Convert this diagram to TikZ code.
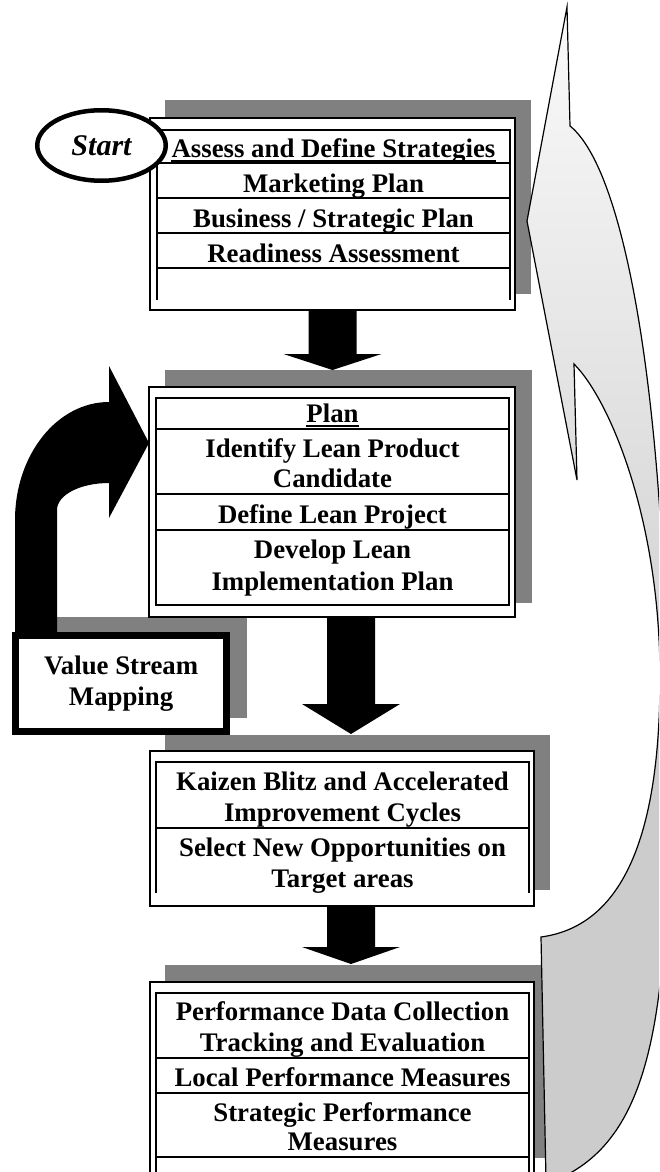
\documentclass[tikz,border=0pt]{standalone}
\usepackage{fontspec}
\setmainfont{Liberation Serif}
\usetikzlibrary{calc,shapes.geometric}
\definecolor{shadowgray}{HTML}{808080}
\definecolor{backgray}{HTML}{CCCCCC}
\newcommand\blockarrow[3]{%
  \fill ($(#1)+(-24,0)$) -- ($(#1)+(24,0)$) -- ($(#2)+(24,-#3)$) -- ($(#2)+(49,-#3)$)
    -- (#2) -- ($(#2)+(-49,-#3)$) -- ($(#2)+(-24,-#3)$) -- cycle;}
\begin{document}
\begin{tikzpicture}[x=1pt,y=-1pt,
  shadowbox/.style={fill=shadowgray,draw=none,inner sep=0,outer sep=0},
  boxw/.style={fill=white,draw=black,line width=1.2pt,inner sep=0,outer sep=0},
  tbl/.style={line width=1.8pt},
  txt/.style={font=\fontsize{26.8}{30}\selectfont\bfseries,inner sep=0,anchor=base},
  uline/.style={line width=2pt}]
\useasboundingbox (0,0) rectangle (659,1172);

% shadows
\node[shadowbox,minimum width=366pt,minimum height=194pt] (s1) at (348,197) {};
\node[shadowbox,minimum width=367pt,minimum height=233pt] (s2) at (348.5,486.5) {};
\node[shadowbox,minimum width=385pt,minimum height=155pt] (s3) at (357.5,812.5) {};
\node[shadowbox,minimum width=385pt,minimum height=193pt] (s4) at (357.5,1061.5) {};
\node[shadowbox,minimum width=220pt,minimum height=101pt] (svsm) at (137,667.5) {};

% big curved arrow (right side)
\begin{scope}
\clip (0,0) rectangle (659,1172);
\draw[line width=1.2pt,fill=backgray]
  (541,937) -- (546,1180) -- (556,1180) .. controls (650,1140) and (670,1020) .. (668,770)
  -- (660,677) .. controls (660,820) and (630,925) .. (541,937) -- cycle;
\draw[line width=1.2pt,top color=white!98!black,bottom color=black!20]
  (574,364) -- (577,480) -- (527,221) -- (567,7) -- (570,126)
  .. controls (625,170) and (668,400) .. (668,770)
  -- (660,677) .. controls (660,520) and (610,400) .. (574,364) -- cycle;
\end{scope}

% box 1
\node[boxw,minimum width=365pt,minimum height=192pt] (b1) at (332.5,214) {};
\draw[tbl] (157,300) -- (157,130) -- (510,130) -- (510,300);
\draw[tbl] (157,163) -- (510,163) (157,198) -- (510,198) (157,233) -- (510,233) (157,268) -- (510,268);
\node[txt] (t11) at (333.5,157) {Assess and Define Strategies};
\draw[uline] ($(t11.base west)+(0,3.5)$) -- ($(t11.base east)+(0,3.5)$);
\node[txt] (t12) at (333.5,192) {Marketing Plan};
\node[txt] (t13) at (333.5,227) {Business / Strategic Plan};
\node[txt] (t14) at (333.5,262) {Readiness Assessment};

% box 2
\node[boxw,minimum width=366pt,minimum height=230pt] (b2) at (332,502) {};
\draw[tbl] (156,398) rectangle (509,605);
\draw[tbl] (156,429) -- (509,429) (156,494) -- (509,494) (156,530) -- (509,530);
\node[txt] (t21) at (332.5,422) {Plan};
\draw[uline] ($(t21.base west)+(0,4)$) -- ($(t21.base east)+(0,4)$);
\node[txt] (t22) at (332.5,457.5) {Identify Lean Product};
\node[txt] (t23) at (332.5,487.5) {Candidate};
\node[txt] (t24) at (332.5,523) {Define Lean Project};
\node[txt] (t25) at (332.5,558.5) {Develop Lean};
\node[txt] (t26) at (332.5,590.5) {Implementation Plan};

% box 3
\node[boxw,minimum width=384pt,minimum height=155pt] (b3) at (342,828.5) {};
\draw[tbl] (156,893) -- (156,762) -- (529,762) -- (529,893);
\draw[tbl] (156,828) -- (529,828);
\node[txt] (t31) at (342.5,790) {Kaizen Blitz and Accelerated};
\node[txt] (t32) at (342.5,821) {Improvement Cycles};
\node[txt] (t33) at (342.5,856) {Select New Opportunities on};
\node[txt] (t34) at (342.5,887.5) {Target areas};

% box 4
\node[boxw,minimum width=384pt,minimum height=192pt] (b4) at (342,1078) {};
\draw[tbl] (156,1176) -- (156,993) -- (529,993) -- (529,1176);
\draw[tbl] (156,1058) -- (529,1058) (156,1093) -- (529,1093) (156,1157) -- (529,1157);
\node[txt] (t41) at (342.5,1020.5) {Performance Data Collection};
\node[txt] (t42) at (342.5,1051.5) {Tracking and Evaluation};
\node[txt] (t43) at (342.5,1086.5) {Local Performance Measures};
\node[txt] (t44) at (342.5,1121.5) {Strategic Performance};
\node[txt] (t45) at (342.5,1150.5) {Measures};

% start
\node[draw,ellipse,fill=white,line width=4.5pt,minimum width=128.5pt,minimum height=70.5pt,
  inner sep=0,font=\fontsize{30}{32}\selectfont\bfseries\itshape] (start) at (101.5,145.5) {Start\hspace{10pt}};

% block arrows
\coordinate (a1s) at (b1.south);
\coordinate (a1t) at (a1s |- s2.north);
\blockarrow{a1s}{a1t}{16}
\coordinate (a2s) at ($(b2.south)+(19,0)$);
\coordinate (a2t) at ($(a2s |- s3.north)+(0,-1)$);
\blockarrow{a2s}{a2t}{30}
\coordinate (a3s) at ($(b3.south)+(9,0)$);
\coordinate (a3t) at ($(a3s |- s4.north)+(0,-1)$);
\blockarrow{a3s}{a3t}{17}

% value stream mapping feedback arrow
\fill (15,640) -- (15,520) .. controls (15,455) and (57,402) .. (109,402) -- (109,366)
  -- (b2.west |- 0,443) -- (109,518) -- (109,483) .. controls (80,483) and (57,495) .. (57,510)
  -- (57,640) -- cycle;
\node[draw=black,fill=white,line width=7.5pt,minimum width=210.75pt,minimum height=96pt,inner sep=0,
  align=center,font=\fontsize{26.8}{31}\selectfont\bfseries] (vsm) at (121.1,683.5) {Value Stream\\Mapping};
\end{tikzpicture}
\end{document}
